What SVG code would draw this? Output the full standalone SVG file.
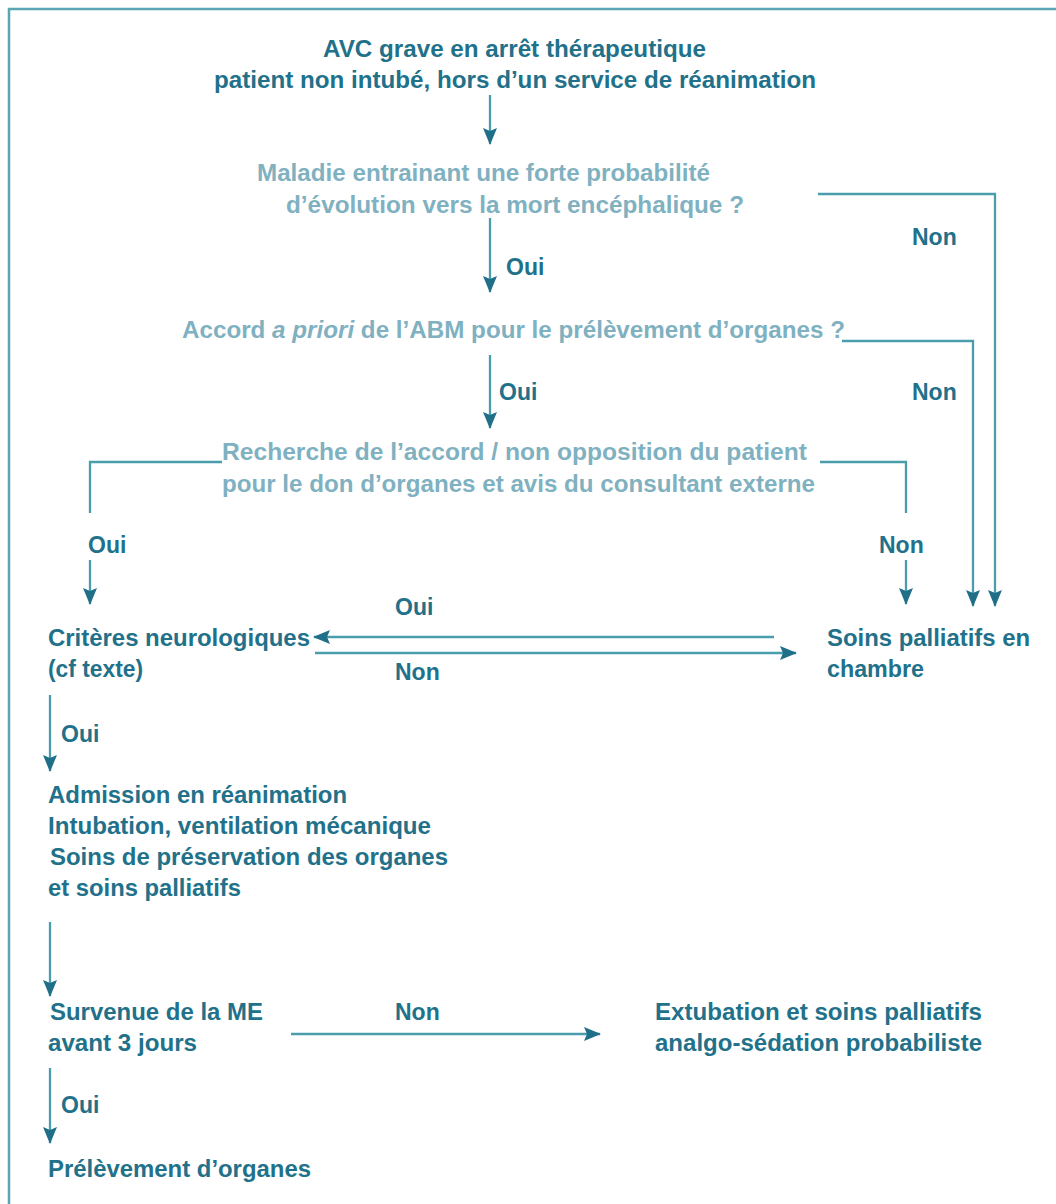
<svg xmlns="http://www.w3.org/2000/svg" width="1056" height="1204" viewBox="0 0 1056 1204">
<style>
text{font-family:"Liberation Sans",Arial,sans-serif;font-weight:bold;font-size:23px}
.d{fill:#22718a}
.l{fill:#7fb1c1}
.lab{fill:#22718a}
.c{fill:none;stroke:#4a9dab;stroke-width:2.3}
.a{marker-end:url(#ah)}
</style>
<defs>
<marker id="ah" markerUnits="userSpaceOnUse" markerWidth="18" markerHeight="14" refX="16" refY="7" orient="auto">
<path d="M0,0 L17,7 L0,14 L3,7 z" fill="#1f6f89"/>
</marker>
</defs>
<rect width="1056" height="1204" fill="#ffffff"/>
<path d="M9,1204 V9 H1056" fill="none" stroke="#5aa6b5" stroke-width="2.5"/>

<g id="n-start"><text class="d" x="323" y="57" textLength="383" lengthAdjust="spacingAndGlyphs">AVC grave en arrêt thérapeutique</text><text class="d" x="214" y="88" textLength="602" lengthAdjust="spacingAndGlyphs">patient non intubé, hors d’un service de réanimation</text></g>
<g id="n-maladie"><text class="l" x="257" y="181" textLength="453" lengthAdjust="spacingAndGlyphs">Maladie entrainant une forte probabilité</text><text class="l" x="286" y="213" textLength="458" lengthAdjust="spacingAndGlyphs">d’évolution vers la mort encéphalique ?</text></g>
<g id="n-accord"><text class="l" x="182" y="338" textLength="663" lengthAdjust="spacingAndGlyphs">Accord <tspan font-style="italic">a priori</tspan> de l’ABM pour le prélèvement d’organes ?</text></g>
<g id="n-recherche"><text class="l" x="222" y="460" textLength="585" lengthAdjust="spacingAndGlyphs">Recherche de l’accord / non opposition  du patient</text><text class="l" x="222" y="492" textLength="593" lengthAdjust="spacingAndGlyphs">pour le don d’organes et avis du consultant externe</text></g>
<g id="n-criteres"><text class="d" x="48" y="646" textLength="262" lengthAdjust="spacingAndGlyphs">Critères neurologiques</text><text class="d" x="48" y="677" textLength="95" lengthAdjust="spacingAndGlyphs">(cf texte)</text></g>
<g id="n-soins"><text class="d" x="827" y="646" textLength="203" lengthAdjust="spacingAndGlyphs">Soins palliatifs en</text><text class="d" x="827" y="677" textLength="97" lengthAdjust="spacingAndGlyphs">chambre</text></g>
<g id="n-admission"><text class="d" x="48" y="803" textLength="299" lengthAdjust="spacingAndGlyphs">Admission en réanimation</text><text class="d" x="48" y="834" textLength="383" lengthAdjust="spacingAndGlyphs">Intubation, ventilation mécanique</text><text class="d" x="50" y="865" textLength="398" lengthAdjust="spacingAndGlyphs">Soins de préservation  des organes</text><text class="d" x="48" y="896" textLength="193" lengthAdjust="spacingAndGlyphs">et soins palliatifs</text></g>
<g id="n-survenue"><text class="d" x="50" y="1020" textLength="213" lengthAdjust="spacingAndGlyphs">Survenue de la ME</text><text class="d" x="48" y="1051" textLength="149" lengthAdjust="spacingAndGlyphs">avant 3 jours</text></g>
<g id="n-extubation"><text class="d" x="655" y="1020" textLength="327" lengthAdjust="spacingAndGlyphs">Extubation et soins palliatifs</text><text class="d" x="655" y="1051" textLength="327" lengthAdjust="spacingAndGlyphs">analgo-sédation  probabiliste</text></g>
<g id="n-prelevement"><text class="d" x="48" y="1177" textLength="263" lengthAdjust="spacingAndGlyphs">Prélèvement d’organes</text></g>

<g id="connectors">
<path class="c a" d="M490,95 V144"/>
<path class="c a" d="M818,194 H995 V606"/>
<path class="c a" d="M490,218 V292"/>
<path class="c a" d="M842,341 H973 V606"/>
<path class="c a" d="M490,355 V428"/>
<path class="c" d="M222,462 H90 V513"/>
<path class="c a" d="M90,560 V604"/>
<path class="c" d="M820,462 H906 V513"/>
<path class="c a" d="M906,560 V604"/>
<path class="c a" d="M774,637 H314"/>
<path class="c a" d="M315,653 H796"/>
<path class="c a" d="M50,695 V771"/>
<path class="c a" d="M50,922 V996"/>
<path class="c a" d="M291,1034 H600"/>
<path class="c a" d="M50,1068 V1143"/>
<g id="labels">
<text class="lab" x="912" y="245">Non</text>
<text class="lab" x="506" y="275">Oui</text>
<text class="lab" x="912" y="400">Non</text>
<text class="lab" x="499" y="400">Oui</text>
<text class="lab" x="88" y="553">Oui</text>
<text class="lab" x="879" y="553">Non</text>
<text class="lab" x="395" y="615">Oui</text>
<text class="lab" x="395" y="680">Non</text>
<text class="lab" x="61" y="742">Oui</text>
<text class="lab" x="395" y="1020">Non</text>
<text class="lab" x="61" y="1113">Oui</text>
</g>
</g>
</svg>
